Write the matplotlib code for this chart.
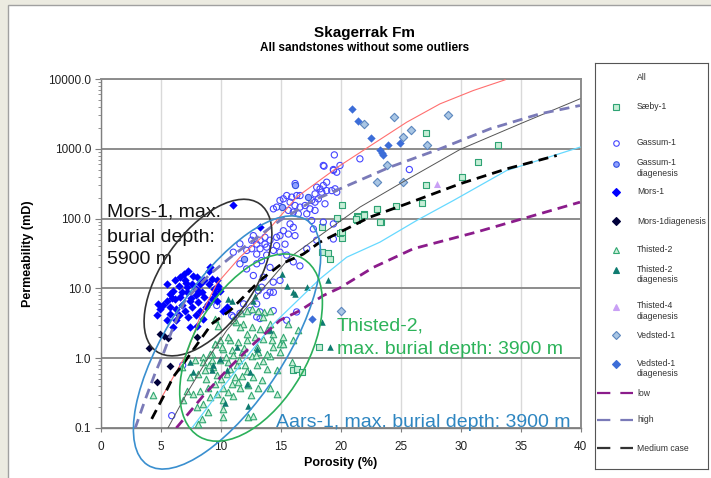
import matplotlib
matplotlib.use("Agg")
from matplotlib import pyplot as plt
from matplotlib.patches import Ellipse, Rectangle
from matplotlib.transforms import IdentityTransform
from matplotlib.ticker import FuncFormatter, MultipleLocator

matplotlib.rcParams['font.family'] = ['Liberation Sans', 'DejaVu Sans']

# ---- data (porosity %, permeability mD) ----
saeby_x = [27.1, 33.08, 31.47, 30.13, 27.13, 26.75, 24.58, 23.0, 21.94, 21.33,
           21.33, 23.36, 20.08, 20.08, 21.41, 21.9, 23.02, 23.27, 18.41, 19.94,
           18.41, 18.9, 19.1, 18.22, 16.0, 16.33, 16.75, 19.72, 20.14, 21.25]
saeby_y = [1690, 1140, 643, 392, 307, 168, 151, 137, 115, 110,
           96, 90, 157, 53, 107, 113, 136, 89, 75, 63,
           33, 32, 26.5, 1.44, 0.67, 0.70, 0.63, 103, 65, 99]

gassum_x = [19.47, 18.61, 19.39, 19.67, 18.0, 18.28, 18.55, 18.83, 17.86, 18.42,
            18.83, 19.25, 19.53, 19.67, 17.58, 17.86, 18.14, 16.61, 16.33, 15.92,
            15.5, 15.22, 14.94, 15.78, 16.19, 16.61, 17.03, 17.44, 17.86, 17.17,
            16.47, 16.05, 15.64, 14.66, 14.39, 17.58, 18.55, 19.39, 17.72, 15.78,
            16.05, 15.22, 15.64, 16.19, 14.94, 14.66, 14.11, 13.69, 13.28, 12.72,
            12.58, 13.0, 13.69, 13.83, 14.66, 15.36, 14.39, 12.58, 12.17, 11.05,
            13.0, 19.39, 17.17, 18.0, 18.69, 12.16, 13.0, 13.4, 13.83, 14.11,
            12.72, 13.55, 14.38, 14.94, 11.6, 14.94, 15.5, 16.05, 16.6, 13.41,
            13.83, 13.0, 11.9, 12.44, 13.27, 14.38, 11.05, 15.5, 13.0, 16.33,
            11.6, 13.28, 14.11, 14.39, 13.14, 10.92, 11.61, 13.28, 9.67, 5.92,
            6.83, 19.94, 18.55, 19.4, 16.2, 21.6, 25.72]
gassum_y = [818, 564, 505, 462, 282, 267, 298, 332, 226, 239,
            252, 252, 267, 239, 182, 172, 192, 214, 214, 203,
            214, 192, 182, 172, 154, 146, 154, 138, 131, 117,
            117, 124, 131, 146, 138, 94, 89, 84, 71, 84,
            75, 67, 60, 57, 57, 54, 49, 54, 49, 57,
            49, 43, 43, 39, 41, 43, 35, 37, 35, 33,
            31, 51, 37, 49, 163, 19, 22.5, 25, 30, 20,
            15.3, 14.5, 12.3, 13, 43.5, 33, 30, 24, 21, 10.4,
            7.9, 6.0, 6.0, 4.8, 4.6, 4.8, 3.9, 3.5, 3.9, 4.6,
            22.5, 37, 8.8, 8.8, 9.3, 4.1, 4.4, 3.7, 5.7, 0.15,
            0.79, 577, 577, 490, 318, 718, 505]

gassum_d_x = [16.19, 17.3, 15.08, 11.9]
gassum_d_y = [307, 203, 146, 26.5]

mors_x = [4.8, 4.9, 5.5, 6.2, 6.6, 7.2, 7.9, 8.3, 9.0, 9.1,
          7.7, 8.0, 7.0, 6.5, 6.0, 5.8, 5.2, 5.8, 6.5, 7.0,
          7.6, 8.1, 8.6, 9.4, 9.5, 9.7, 8.8, 8.3, 7.3, 6.3,
          5.5, 4.7, 6.75, 7.4, 7.9, 7.2, 7.6, 8.4, 9.0, 9.25,
          5.5, 6.2, 6.9, 6.05, 7.4, 8.0, 8.55, 10.5, 10.2, 9.9,
          9.7, 7.3, 6.6, 5.8, 9.25, 11.0, 13.3, 6.8, 7.5, 8.2,
          8.9, 6.3, 7.1, 8.6, 5.9, 9.8, 7.9]
mors_y = [6.0, 5.1, 6.7, 7.1, 7.5, 8.8, 9.9, 11.6, 18, 20,
          15, 14.5, 13, 11, 9.3, 8.4, 5.7, 4.3, 4.1, 4.8,
          5.4, 6.4, 7.5, 9.9, 8.4, 6.7, 5.4, 4.8, 3.9, 3.5,
          3.5, 4.1, 5.7, 6.7, 8.0, 10.5, 11.6, 8.8, 11.6, 13.7,
          11.6, 13, 16, 2.8, 2.8, 2.9, 3.7, 5.4, 4.8, 9.3,
          13, 18, 14.5, 5.4, 7.1, 155, 75, 9.0, 7.2, 9.0,
          6.0, 5.0, 12, 13, 7.3, 11, 4.2]

mors_d_x = [4.9, 5.6, 4.05, 4.7, 5.8, 8.0, 5.3]
mors_d_y = [2.2, 1.96, 1.4, 0.45, 0.78, 2.0, 2.1]

t2_x = [12.58, 13.14, 13.64, 14.1, 12.17, 11.66, 11.25, 11.89, 12.58, 13.28,
        13.83, 14.39, 15.08, 16.47, 10.78, 11.47, 12.17, 12.86, 13.55, 14.25,
        9.94, 9.53, 10.22, 10.91, 11.75, 12.58, 13.14, 14.1, 14.94, 9.25,
        8.55, 7.86, 9.94, 10.64, 11.33, 12.03, 13.0, 13.83, 14.67, 9.39,
        8.69, 8.14, 7.44, 10.5, 11.19, 11.75, 12.72, 13.41, 14.1, 14.67,
        12.3, 11.61, 10.92, 10.22, 9.53, 8.97, 8.27, 7.72, 7.16, 6.89,
        9.66, 11.05, 10.22, 9.11, 8.55, 7.99, 8.97, 8.41, 10.22, 10.22,
        12.3, 12.72, 8.14, 13.14, 9.52, 9.8, 10.63, 11.05, 11.6, 12.16,
        9.52, 10.08, 9.1, 8.55, 6.75, 13.0, 13.83, 14.38, 14.94, 15.22,
        16.05, 15.63, 13.55, 14.11, 4.33, 15.9, 15.2, 10.0, 10.8, 11.5,
        12.2, 10.4, 9.0, 11.9, 12.9, 10.6, 11.4, 9.7, 13.5, 8.8,
        12.5, 11.0, 9.3]
t2_y = [5.1, 4.8, 4.6, 4.8, 4.8, 4.4, 3.3, 3.1, 2.8, 2.6,
        2.5, 2.2, 1.7, 2.5, 1.8, 1.7, 1.8, 2.0, 1.9, 1.8,
        1.8, 1.6, 1.36, 1.29, 1.22, 1.09, 1.22, 1.09, 1.22, 1.15,
        1.03, 0.93, 0.93, 0.88, 0.79, 0.81, 0.81, 0.70, 0.67, 0.74,
        0.67, 0.60, 0.53, 0.60, 0.53, 0.56, 0.53, 0.48, 0.38, 0.31,
        0.41, 0.38, 0.43, 0.38, 0.43, 0.38, 0.34, 0.31, 0.34, 0.25,
        0.31, 0.29, 0.25, 0.28, 0.22, 0.20, 0.17, 0.135, 0.19, 0.143,
        0.143, 0.15, 0.115, 0.38, 3.7, 2.9, 2.0, 3.5, 2.8, 2.2,
        1.6, 1.44, 1.16, 0.88, 0.74, 1.44, 1.16, 1.44, 1.6, 2.0,
        1.8, 3.1, 3.9, 3.1, 0.30, 0.88, 1.6, 0.5, 0.7, 0.95,
        0.65, 1.05, 0.8, 1.4, 1.1, 0.33, 0.45, 0.58, 0.9, 0.5,
        0.3, 1.1, 0.95]

t2d_x = [13.14, 16.19, 18.41, 14.1, 13.0, 12.44, 12.3, 9.25, 7.44, 9.94,
         11.33, 10.92, 12.72, 16.05, 17.17, 18.97, 12.17, 9.39, 7.72, 10.36,
         15.5, 19.1, 15.13, 10.63, 12.86, 10.5]
t2d_y = [10.4, 8.4, 3.3, 2.5, 1.36, 0.63, 0.21, 0.67, 0.88, 0.99,
         1.44, 6.7, 6.7, 8.8, 10.4, 13, 0.43, 0.79, 0.63, 0.23,
         11, 1.44, 16, 7.1, 7.9, 0.67]

t4d_x = [28.0]
t4d_y = [315]

ved_x = [21.9, 24.4, 25.83, 25.2, 27.2, 28.97, 23.83, 23.0, 25.2, 20.0]
ved_y = [2275, 2840, 1890, 1465, 1150, 3090, 590, 340, 340, 4.8]

ved_d_x = [20.97, 21.47, 22.5, 23.27, 23.4, 23.55, 23.97, 24.9, 17.6]
ved_d_y = [3730, 2540, 1435, 966, 865, 818, 1150, 1200, 3.7]

# trend curves
red_x = [5.0, 7.16, 8.27, 9.66, 11.61, 13.55, 15.5, 16.33, 19.94, 22.72, 25.5, 28.27, 31.05, 33.7]
red_y = [0.26, 1.16, 3.9, 11.6, 28, 57, 138, 203, 575, 1178, 2405, 4400, 6840, 9730]

gray_x = [5.6, 7.16, 8.83, 10.5, 15.78, 18.83, 21.6, 25.5, 29.94, 34.94, 39.94]
gray_y = [0.1, 0.31, 0.93, 2.5, 28, 67, 146, 360, 977, 2275, 5200]

cyan_x = [7.6, 9.94, 12.16, 14.39, 18.27, 20.5, 23.27, 26.33, 29.4, 33.83, 39.94]
cyan_y = [0.1, 0.34, 1.04, 3.1, 13.7, 28, 46, 94, 182, 489, 1055]

low_x = [6.3, 8.55, 10.5, 12.44, 14.94, 16.6, 18.55, 19.94, 22.72, 26.05, 31.3, 39.94]
low_y = [0.1, 0.29, 0.67, 1.44, 3.5, 4.8, 7.9, 10.2, 20, 37, 64, 172]

high_x = [2.86, 3.69, 4.52, 5.22, 6.05, 7.02, 9.1, 11.05, 14.94, 17.72, 19.94, 24.1, 28.27, 32.44, 36.6, 39.94]
high_y = [0.098, 0.25, 0.6, 1.16, 2.8, 6.7, 16, 30, 94, 182, 267, 546, 998, 1930, 3170, 4170]

med_x = [4.25, 5.22, 6.05, 6.88, 8.27, 9.25, 10.77, 13.27, 15.08, 16.88, 18.27, 19.94, 22.44, 25.5, 29.94, 33.83, 38.0]
med_y = [0.135, 0.28, 0.54, 0.83, 1.8, 3.1, 4.8, 13, 22.5, 31, 46, 64, 105, 163, 315, 516, 802]

# ---- figure ----
W, H = 711, 478
fig = plt.figure(figsize=(W / 100, H / 100), dpi=100)
fig.patch.set_facecolor('#ECEBE1')
fig.add_artist(Rectangle((8 / W, -0.05), 1.0, 1 - 5 / H + 0.05, transform=fig.transFigure,
                         facecolor='white', edgecolor='#A0A0A0', lw=1.0, zorder=-10))

ax = fig.add_axes([100.7 / W, 50 / H, 480 / W, 349 / H])
ax.set_yscale('log')
ax.set_xlim(0, 40)
ax.set_ylim(0.1, 10000)

ax.xaxis.set_major_locator(MultipleLocator(5))
ax.yaxis.set_major_formatter(FuncFormatter(lambda v, p: f"{v:.1f}"))
ax.tick_params(axis='y', which='major', direction='out', length=4, width=0.8, color='#7F7F7F',
               labelsize=8.5, labelcolor='#222222', pad=3)
ax.tick_params(axis='y', which='minor', direction='out', length=2.5, width=0.6, color='#7F7F7F')
ax.tick_params(axis='y', which='minor', labelleft=False)
ax.tick_params(axis='x', direction='out', length=3, width=0.8, color='#7F7F7F',
               labelsize=8.5, labelcolor='#222222', pad=6)

ax.grid(axis='y', which='major', color='#8C8C8C', lw=1.4)
ax.grid(axis='x', which='major', color='#D9D9D9', lw=1.0)
ax.set_axisbelow(True)
for side in ['left', 'bottom']:
    ax.spines[side].set_color('#7F7F7F')
    ax.spines[side].set_linewidth(1.0)
for side in ['top', 'right']:
    ax.spines[side].set_color('#8C8C8C')
    ax.spines[side].set_linewidth(1.4)

ax.set_xlabel('Porosity (%)', fontsize=9, weight='bold', labelpad=3)
ax.set_ylabel('Permeability (mD)', fontsize=9, weight='bold', labelpad=10)

# scatter groups
ax.scatter(saeby_x, saeby_y, marker='s', s=18, facecolor='#C6EED6', edgecolor='#2FA374', lw=0.8, zorder=3)
ax.scatter(gassum_x, gassum_y, marker='o', s=20, facecolor='none', edgecolor='#4545FF', lw=0.8, zorder=3)
ax.scatter(gassum_d_x, gassum_d_y, marker='o', s=20, facecolor='#8FA0FF', edgecolor='#3050E0', lw=0.8, zorder=3)
ax.scatter(t2_x, t2_y, marker='^', s=22, facecolor='#CDEFD9', edgecolor='#32A872', lw=0.8, zorder=3)
ax.scatter(t2d_x, t2d_y, marker='^', s=22, color='#0F7B70', lw=0, zorder=3)
ax.scatter(t4d_x, t4d_y, marker='^', s=26, color='#C9A0F5', lw=0, zorder=3)
ax.scatter(mors_x, mors_y, marker='D', s=18, color='#0000FF', lw=0, zorder=3)
ax.scatter(mors_d_x, mors_d_y, marker='D', s=16, color='#00003A', lw=0, zorder=3)
ax.scatter(ved_x, ved_y, marker='D', s=18, facecolor='#A9C6E4', edgecolor='#5B86BE', lw=0.8, zorder=3)
ax.scatter(ved_d_x, ved_d_y, marker='D', s=18, color='#3C6DD8', lw=0, zorder=3)

# curves
ax.plot(red_x, red_y, color='#FF6F6F', lw=0.8, zorder=4)
ax.plot(gray_x, gray_y, color='#555555', lw=0.7, zorder=4)
ax.plot(cyan_x, cyan_y, color='#66D9FF', lw=0.9, zorder=4)
ax.plot(low_x, low_y, color='#8B1C8B', lw=2.0, dashes=(3.6, 2.2), zorder=4)
ax.plot(high_x, high_y, color='#7A7AB8', lw=2.0, dashes=(3.6, 2.2), zorder=4)
ax.plot(med_x, med_y, color='#000000', lw=2.0, dashes=(3.6, 2.2), zorder=4)

# ellipses around well groups: (porosity, perm) centre, size in pixels, angle
ellipses = [((8.94, 14.3), 180, 92, 55, '#333333'),
            ((10.53, 1.68), 292, 118, 57, '#3A8FCF'),
            ((12.53, 1.42), 206, 114, 60, '#2BB05A')]
for (cx, cy), ew, eh, ang, col in ellipses:
    c = ax.transData.transform((cx, cy))
    fig.add_artist(Ellipse(c, ew, eh, angle=ang, transform=IdentityTransform(),
                           fill=False, edgecolor=col, lw=1.2, zorder=5))

# annotations
ax.text(0.53, 107, 'Mors-1, max.', fontsize=14, color='#111111', va='baseline', zorder=6)
ax.text(0.53, 46, 'burial depth:', fontsize=14, color='#111111', va='baseline', zorder=6)
ax.text(0.53, 22.4, '5900 m', fontsize=14, color='#111111', va='baseline', zorder=6)
ax.text(19.7, 2.5, 'Thisted-2,', fontsize=14, color='#2DB35A', va='baseline', zorder=6)
ax.text(19.7, 1.13, 'max. burial depth: 3900 m', fontsize=14, color='#2DB35A', va='baseline', zorder=6)
ax.text(14.6, 0.102, 'Aars-1, max. burial depth: 3900 m', fontsize=14, color='#2E86C1',
        va='baseline', zorder=6)

# titles
fig.text(365 / W, 1 - 33 / H, 'Skagerrak Fm', ha='center', va='center', fontsize=11, weight='bold')
fig.text(365 / W, 1 - 48 / H, 'All sandstones without some outliers', ha='center', va='center',
         fontsize=8.5, weight='bold')

# legend panel, drawn in its own pixel-like coordinates
lax = fig.add_axes([595 / W, 9 / H, 113 / W, 406 / H])
lax.set_xlim(0, 113)
lax.set_ylim(406, 0)
lax.set_xticks([])
lax.set_yticks([])
for s in lax.spines.values():
    s.set_color('#555555')
    s.set_linewidth(0.8)

leg_labels = ['All', 'Sæby-1', 'Gassum-1', 'Gassum-1\ndiagenesis', 'Mors-1', 'Mors-1diagenesis',
              'Thisted-2', 'Thisted-2\ndiagenesis', 'Thisted-4\ndiagenesis', 'Vedsted-1',
              'Vedsted-1\ndiagenesis', 'low', 'high', 'Medium case']
leg_y = [15, 44, 80, 101, 129, 158, 187, 207, 244, 272, 301, 330, 357, 385]
leg_style = [None,
             dict(marker='s', mfc='#C6EED6', mec='#2FA374'),
             dict(marker='o', mfc='white', mec='#4545FF'),
             dict(marker='o', mfc='#8FA0FF', mec='#3050E0'),
             dict(marker='D', mfc='#0000FF', mec='#0000FF'),
             dict(marker='D', mfc='#00003A', mec='#00003A'),
             dict(marker='^', mfc='#CDEFD9', mec='#32A872'),
             dict(marker='^', mfc='#0F7B70', mec='#0F7B70'),
             dict(marker='^', mfc='#C9A0F5', mec='#C9A0F5'),
             dict(marker='D', mfc='#A9C6E4', mec='#5B86BE'),
             dict(marker='D', mfc='#3C6DD8', mec='#3C6DD8'),
             '#8B1C8B', '#7A7AB8', '#333333']

for lab, y, st in zip(leg_labels, leg_y, leg_style):
    if isinstance(st, dict):
        lax.plot([21], [y], ls='none', ms=4, mew=0.8, **st)
    elif isinstance(st, str):
        lax.plot([2, 38], [y, y], color=st, lw=1.6, dashes=(6, 4.5))
    if '\n' in lab:
        lax.text(42, y - 5.5, lab, fontsize=6.2, color='#333333', va='top', linespacing=1.25)
    else:
        lax.text(42, y, lab, fontsize=6.2, color='#333333', va='center')

fig.savefig('out.png', dpi=100, facecolor=fig.get_facecolor())
